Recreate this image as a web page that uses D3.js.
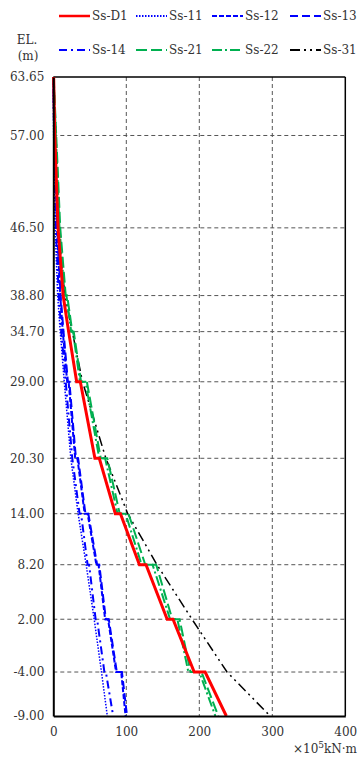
<!DOCTYPE html>
<html>
<head>
<meta charset="utf-8">
<script src="https://cdn.jsdelivr.net/npm/d3@7"></script>
<style>
  html, body { margin: 0; padding: 0; background: #fff; }
  svg { display: block; }
</style>
</head>
<body>
<svg id="chart" width="360" height="758"></svg>
<script>
// ---- data: [elevation (m), moment (x10^5 kN·m)] ----
const xTicks = [0, 100, 200, 300, 400];
const yTicks = [63.65, 57.00, 46.50, 38.80, 34.70, 29.00, 20.30, 14.00, 8.20, 2.00, -4.00, -9.00];
const yTickLabels = ["63.65", "57.00", "46.50", "38.80", "34.70", "29.00", "20.30", "14.00", "8.20", "2.00", "-4.00", "-9.00"];
const seriesNames = ["Ss-D1", "Ss-11", "Ss-12", "Ss-13", "Ss-14", "Ss-21", "Ss-22", "Ss-31"];

const ssD1 = [[63.65,0.5],[57,2],[46.5,6.5],[38.8,13.5],[34.7,21],[29,32],[29,37],[20.3,57],[20.3,63],[14,85],[14,92],[8.2,118],[8.2,127],[2,156],[2,164],[-4,193],[-4,208],[-9,237]];
const ss11 = [[63.65,0],[57,0.5],[46.5,2.5],[38.8,6],[34.7,9.5],[29,15],[20.3,24],[14,34],[8.2,45],[2,56],[-4,66],[-9,74]];
const ss12 = [[63.65,0],[57,1.5],[46.5,5],[38.8,9.5],[34.7,13],[29,19],[29,21],[20.3,30],[20.3,33],[14,43],[14,47],[8.2,59],[8.2,62],[2,71],[2,75],[-4,86],[-4,93],[-9,99]];
const ss13 = [[63.65,0],[57,1.5],[46.5,5.5],[38.8,10],[34.7,14],[29,20],[29,22],[20.3,31],[20.3,34],[14,44],[14,48],[8.2,60],[8.2,63],[2,72],[2,76],[-4,87],[-4,94],[-9,101]];
const ss14 = [[63.65,0],[57,1],[46.5,3.5],[38.8,7.5],[34.7,11],[29,17],[20.3,26],[14,36],[14,38],[8.2,47],[8.2,49],[2,58],[2,60],[-4,70],[-4,72],[-9,82]];
const ss21 = [[63.65,0.5],[57,4],[46.5,9.5],[38.8,17],[38.8,19],[34.7,26],[34.7,28],[29,38],[29,46],[20.3,65],[20.3,74],[14,91],[14,103],[8.2,126],[8.2,141],[2,163],[2,173],[-4,188],[-4,203],[-9,226]];
const ss22 = [[63.65,0.5],[57,3.5],[46.5,8.5],[38.8,15.5],[38.8,18],[34.7,24.5],[34.7,27],[29,36.5],[29,44],[20.3,63],[20.3,71],[14,88],[14,99],[8.2,121],[8.2,136],[2,160],[2,170],[-4,185],[-4,200],[-9,222]];
const ss31 = [[63.65,0],[57,1.5],[46.5,6],[38.8,16],[34.7,26],[29,40],[20.3,72],[14,102],[8.2,142],[2,190],[-4,238],[-9,297]];

// ---- styles ----
const styles = {
  "Ss-D1": { data: ssD1, color: "#ff0000", width: 3,   dash: null },
  "Ss-11": { data: ss11, color: "#0000ff", width: 1.5, dash: "1.5,1.5" },
  "Ss-12": { data: ss12, color: "#0000ff", width: 2,   dash: "5,2" },
  "Ss-13": { data: ss13, color: "#0000ff", width: 2,   dash: "8,4" },
  "Ss-14": { data: ss14, color: "#0000ff", width: 2,   dash: "8,4,2,4" },
  "Ss-21": { data: ss21, color: "#00b050", width: 2,   dash: "11,4" },
  "Ss-22": { data: ss22, color: "#00b050", width: 2,   dash: "10,3,2,3" },
  "Ss-31": { data: ss31, color: "#000000", width: 1.5, dash: "10,4,2,4,2,4" }
};

const FONT = "'DejaVu Serif', serif";
const svg = d3.select("#chart");
const pLeft = 53.3, pRight = 345.3, pTop = 77, pBottom = 716;
const x = d3.scaleLinear().domain([0, 400]).range([pLeft, pRight]);
const y = d3.scaleLinear().domain([-9, 63.65]).range([pBottom, pTop]);

// grid
const g = svg.append("g");
g.selectAll("line.hgrid").data(yTicks.filter(v => v !== 63.65 && v !== -9)).enter()
  .append("line").attr("class", "hgrid")
  .attr("x1", pLeft).attr("x2", pRight)
  .attr("y1", d => y(d)).attr("y2", d => y(d))
  .attr("stroke", "#555").attr("stroke-width", 1).attr("stroke-dasharray", "4,3");
g.selectAll("line.vgrid").data(xTicks.filter(v => v !== 0 && v !== 400)).enter()
  .append("line").attr("class", "vgrid")
  .attr("x1", d => x(d)).attr("x2", d => x(d))
  .attr("y1", pTop).attr("y2", pBottom)
  .attr("stroke", "#555").attr("stroke-width", 1).attr("stroke-dasharray", "4,3");

// frame
g.append("line").attr("x1", pLeft).attr("x2", pRight).attr("y1", pTop).attr("y2", pTop).attr("stroke", "#000").attr("stroke-width", 1.5);
g.append("line").attr("x1", pRight).attr("x2", pRight).attr("y1", pTop).attr("y2", pBottom).attr("stroke", "#000").attr("stroke-width", 1.5);

// series lines
const line = d3.line().x(d => x(d[1])).y(d => y(d[0]));
const drawOrder = ["Ss-11", "Ss-14", "Ss-12", "Ss-13", "Ss-31", "Ss-22", "Ss-21", "Ss-D1"];
drawOrder.forEach(name => {
  const s = styles[name];
  svg.append("path").datum(s.data)
    .attr("d", line)
    .attr("fill", "none")
    .attr("stroke", s.color)
    .attr("stroke-width", s.width)
    .attr("stroke-dasharray", s.dash)
    .attr("stroke-linejoin", "miter");
});

// axes
const yAxis = d3.axisLeft(y).tickValues(yTicks).tickFormat((d, i) => yTickLabels[i]).tickSize(0).tickPadding(9);
const ya = svg.append("g").attr("transform", `translate(${pLeft},0)`).call(yAxis)
  .attr("font-family", FONT).attr("font-size", 12);
ya.select(".domain").attr("stroke", "#000").attr("stroke-width", 2);
ya.selectAll("text").attr("fill", "#333");

const xAxis = d3.axisBottom(x).tickValues(xTicks).tickFormat(d3.format("d")).tickSize(0).tickPadding(11);
const xa = svg.append("g").attr("transform", `translate(0,${pBottom})`).call(xAxis)
  .attr("font-family", FONT).attr("font-size", 12);
xa.select(".domain").attr("stroke", "#000").attr("stroke-width", 2);
xa.selectAll("text").attr("fill", "#333");

// axis titles
svg.append("text").attr("x", 27).attr("y", 44).attr("text-anchor", "middle")
  .attr("font-family", FONT).attr("font-size", 12).attr("fill", "#333").text("EL.");
svg.append("text").attr("x", 28).attr("y", 60).attr("text-anchor", "middle")
  .attr("font-family", FONT).attr("font-size", 12).attr("fill", "#333").text("(m)");
const unit = svg.append("text").attr("x", 357).attr("y", 753).attr("text-anchor", "end")
  .attr("font-family", FONT).attr("font-size", 12).attr("fill", "#333");
unit.append("tspan").text("×10");
unit.append("tspan").attr("dy", -5).attr("font-size", 9).text("5");
unit.append("tspan").attr("dy", 5).text("kN·m");

// legend
const legX = [59, 136, 212, 290];
const legY = [16, 50];
seriesNames.forEach((name, i) => {
  const s = styles[name];
  const lx = legX[i % 4], ly = legY[Math.floor(i / 4)];
  svg.append("line").attr("x1", lx).attr("x2", lx + 31).attr("y1", ly).attr("y2", ly)
    .attr("stroke", s.color).attr("stroke-width", name === "Ss-D1" ? 2.5 : 2)
    .attr("stroke-dasharray", s.dash);
  svg.append("text").attr("x", lx + 33).attr("y", ly).attr("dy", "0.35em")
    .attr("font-family", FONT).attr("font-size", 12).attr("fill", "#333").text(name);
});
</script>
</body>
</html>
